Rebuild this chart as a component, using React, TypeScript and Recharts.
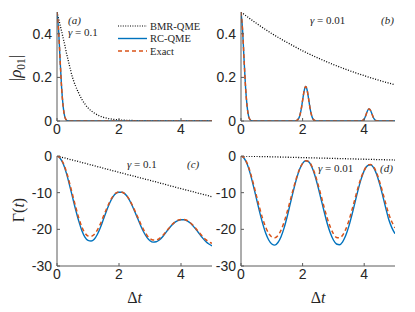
import React from 'react';
import { LineChart, Line, XAxis, YAxis } from 'recharts';

// ---------- ticks ----------
const xTicks = [0, 2, 4];
const rhoTicks = [0, 0.2, 0.4];
const gammaTicks = [-30, -20, -10, 0];

// ---------- panel (a): |rho01|, gamma = 0.1 ----------
const tA = [0, 0.05, 0.1, 0.15, 0.2, 0.25, 0.3, 0.35, 0.4, 0.5, 0.6, 0.7, 0.8, 0.9, 1.0, 1.2, 1.4, 1.6, 1.8, 2.0, 2.5, 3.0, 3.5, 4.0, 4.5, 5.0];
const bmrA = [0.5, 0.47, 0.44, 0.41, 0.38, 0.35, 0.315, 0.285, 0.255, 0.2, 0.16, 0.128, 0.1, 0.078, 0.06, 0.037, 0.022, 0.013, 0.008, 0.005, 0.002, 0.001, 0, 0, 0, 0];
const rcA = [0.5, 0.42, 0.28, 0.15, 0.065, 0.02, 0.005, 0.001, 0, 0, 0, 0, 0, 0, 0, 0, 0, 0, 0, 0, 0, 0, 0, 0, 0, 0];
const exactA = [0.5, 0.42, 0.28, 0.15, 0.065, 0.02, 0.005, 0.001, 0, 0, 0, 0, 0, 0, 0, 0, 0, 0, 0, 0, 0, 0, 0, 0, 0, 0];

// ---------- panel (b): |rho01|, gamma = 0.01 ----------
const tB = [0, 0.05, 0.1, 0.15, 0.2, 0.25, 0.3, 0.35, 0.4, 0.6, 0.8, 1.0, 1.2, 1.4, 1.6, 1.7, 1.8, 1.85, 1.9, 1.95, 2.0, 2.05, 2.1, 2.15, 2.2, 2.25, 2.3, 2.35, 2.4, 2.5, 2.6, 2.8, 3.0, 3.2, 3.4, 3.6, 3.8, 3.9, 3.95, 4.0, 4.05, 4.1, 4.15, 4.2, 4.25, 4.3, 4.35, 4.4, 4.5, 4.6, 4.8, 5.0];
const rcB = [0.5, 0.42, 0.28, 0.15, 0.065, 0.02, 0.005, 0.001, 0, 0, 0, 0, 0, 0, 0, 0, 0.002, 0.007, 0.021, 0.05, 0.095, 0.138, 0.158, 0.14, 0.097, 0.052, 0.022, 0.007, 0.002, 0, 0, 0, 0, 0, 0, 0, 0, 0.001, 0.003, 0.009, 0.025, 0.045, 0.055, 0.05, 0.033, 0.015, 0.005, 0.001, 0, 0, 0, 0];
const exactB = [0.5, 0.42, 0.28, 0.15, 0.065, 0.02, 0.005, 0.001, 0, 0, 0, 0, 0, 0, 0, 0, 0.002, 0.007, 0.021, 0.05, 0.095, 0.138, 0.158, 0.14, 0.097, 0.052, 0.022, 0.007, 0.002, 0, 0, 0, 0, 0, 0, 0, 0, 0.001, 0.003, 0.009, 0.025, 0.045, 0.055, 0.05, 0.033, 0.015, 0.005, 0.001, 0, 0, 0, 0];
const tBmrB = [0, 0.5, 1, 1.5, 2, 2.5, 3, 3.5, 4, 4.5, 5];
const bmrB = [0.5, 0.448, 0.401, 0.36, 0.322, 0.289, 0.259, 0.232, 0.208, 0.186, 0.166];

// ---------- panels (c),(d): Gamma(t) ----------
const tG = [0, 0.1, 0.2, 0.3, 0.4, 0.5, 0.6, 0.7, 0.8, 0.9, 1.0, 1.1, 1.2, 1.3, 1.4, 1.5, 1.6, 1.7, 1.8, 1.9, 2.0, 2.1, 2.2, 2.3, 2.4, 2.5, 2.6, 2.7, 2.8, 2.9, 3.0, 3.1, 3.2, 3.3, 3.4, 3.5, 3.6, 3.7, 3.8, 3.9, 4.0, 4.1, 4.2, 4.3, 4.4, 4.5, 4.6, 4.7, 4.8, 4.9, 5.0];
const rcC = [0, -0.6, -2.1, -4.6, -7.8, -11.2, -14.6, -17.7, -20.3, -22.1, -23.0, -23.2, -22.7, -21.4, -19.5, -17.2, -14.9, -12.8, -11.2, -10.2, -9.9, -9.9, -10.4, -11.5, -13.1, -15.0, -17.0, -19.0, -20.8, -22.2, -23.1, -23.5, -23.4, -22.9, -22.1, -21.0, -19.9, -18.9, -18.1, -17.6, -17.4, -17.4, -17.7, -18.3, -19.2, -20.2, -21.3, -22.4, -23.3, -24.0, -24.5];
const exactC = [0, -0.5, -1.9, -4.2, -7.2, -10.5, -13.8, -16.8, -19.3, -21.0, -21.8, -21.9, -21.4, -20.2, -18.5, -16.4, -14.4, -12.5, -11.0, -10.1, -9.8, -9.9, -10.4, -11.4, -12.9, -14.7, -16.6, -18.5, -20.2, -21.6, -22.5, -22.9, -22.9, -22.5, -21.8, -20.8, -19.8, -18.8, -18.0, -17.5, -17.3, -17.3, -17.6, -18.2, -19.0, -20.0, -21.0, -22.0, -22.8, -23.4, -23.8];
const tBmrG = [0, 1, 2, 3, 4, 5];
const bmrC = [0, -2.2, -4.45, -6.65, -8.9, -11.1];
const rcD = [0, -0.6, -2.2, -4.8, -8.1, -11.6, -15.1, -18.3, -21.0, -22.9, -24.0, -24.3, -23.6, -22.0, -19.6, -16.5, -13.0, -9.5, -6.3, -3.7, -2.0, -1.3, -1.6, -3.0, -5.3, -8.4, -11.8, -15.2, -18.4, -21.0, -22.9, -24.0, -24.2, -23.4, -21.7, -19.2, -16.1, -12.7, -9.3, -6.3, -4.0, -2.7, -2.4, -3.1, -4.9, -7.6, -10.8, -14.2, -17.4, -19.6, -21.2];
const exactD = [0, -0.5, -2.0, -4.4, -7.5, -10.8, -14.0, -17.0, -19.4, -21.1, -22.1, -22.3, -21.7, -20.2, -18.0, -15.2, -12.1, -8.9, -6.0, -3.6, -2.0, -1.3, -1.5, -2.8, -4.9, -7.7, -10.8, -14.0, -17.0, -19.4, -21.2, -22.2, -22.3, -21.6, -20.0, -17.7, -14.8, -11.7, -8.6, -5.9, -3.9, -2.6, -2.3, -2.9, -4.5, -7.0, -9.9, -13.0, -15.9, -18.0, -19.6];
const bmrD = [0, -0.22, -0.44, -0.66, -0.88, -1.1];

// ---------- styles ----------
const AX = '#5a5a5a';
const TXT = '#262626';
const BLUE = '#0072BD';
const ORANGE = '#D95319';
const SANS = '"Liberation Sans", Arial, Helvetica, sans-serif';
const SERIF = '"Liberation Serif", "Times New Roman", serif';

const rows = (ts: number[], vs: number[]) => ts.map((t, i) => ({ t, v: vs[i] }));

type Series = { t: number[]; v: number[] };

function Panel(props: {
  px: number; py: number; w: number; h: number;
  yDomain: [number, number]; yTicks: number[];
  bmr: Series; rc: Series; exact: Series;
}) {
  const { px, py, w, h, yDomain, yTicks, bmr, rc, exact } = props;
  const ML = 50, MR = 6, MT = 11, MB = 26;
  const tickStyle = { fontSize: 14, fill: TXT, fontFamily: SANS };
  return (
    <div style={{ position: 'absolute', left: px - ML, top: py - MT }}>
      <LineChart width={ML + w + MR} height={MT + h + MB} margin={{ top: MT, right: MR, left: 0, bottom: 0 }}>
        <XAxis xAxisId="b" type="number" dataKey="t" domain={[0, 5]} ticks={xTicks} interval={0}
          allowDataOverflow height={MB} stroke={AX} tickSize={-3} tickMargin={6} tick={tickStyle} />
        <XAxis xAxisId="tp" orientation="top" type="number" dataKey="t" domain={[0, 5]} ticks={xTicks}
          interval={0} allowDataOverflow height={0} stroke={AX} tickSize={-3} tick={false} />
        <YAxis yAxisId="l" type="number" domain={yDomain} ticks={yTicks} interval={0} allowDataOverflow
          width={ML} stroke={AX} tickSize={-3} tickMargin={8} tick={tickStyle} />
        <YAxis yAxisId="r" orientation="right" type="number" domain={yDomain} ticks={yTicks} interval={0}
          allowDataOverflow width={0} stroke={AX} tickSize={-3} tick={false} />
        <Line xAxisId="b" yAxisId="l" data={rows(bmr.t, bmr.v)} dataKey="v" type="monotone"
          stroke="#000" strokeWidth={1.3} strokeDasharray="1 1.6" dot={false} isAnimationActive={false} />
        <Line xAxisId="b" yAxisId="l" data={rows(rc.t, rc.v)} dataKey="v" type="monotone"
          stroke={BLUE} strokeWidth={1.4} dot={false} isAnimationActive={false} />
        <Line xAxisId="b" yAxisId="l" data={rows(exact.t, exact.v)} dataKey="v" type="monotone"
          stroke={ORANGE} strokeWidth={1.5} strokeDasharray="4 3" dot={false} isAnimationActive={false} />
      </LineChart>
    </div>
  );
}

function Gamma({ value }: { value: string }) {
  return (
    <>
      <tspan fontStyle="italic">γ</tspan>
      <tspan> = {value}</tspan>
    </>
  );
}

export default function App() {
  return (
    <div style={{ position: 'absolute', left: 0, top: 0, width: 415, height: 312, background: '#fff', overflow: 'hidden' }}>
      <Panel px={57} py={12} w={155} h={109} yDomain={[0, 0.5]} yTicks={rhoTicks}
        bmr={{ t: tA, v: bmrA }} rc={{ t: tA, v: rcA }} exact={{ t: tA, v: exactA }} />
      <Panel px={241} py={12} w={154} h={109} yDomain={[0, 0.5]} yTicks={rhoTicks}
        bmr={{ t: tBmrB, v: bmrB }} rc={{ t: tB, v: rcB }} exact={{ t: tB, v: exactB }} />
      <Panel px={57} py={156} w={155} h={110} yDomain={[-30, 0]} yTicks={gammaTicks}
        bmr={{ t: tBmrG, v: bmrC }} rc={{ t: tG, v: rcC }} exact={{ t: tG, v: exactC }} />
      <Panel px={241} py={156} w={154} h={110} yDomain={[-30, 0]} yTicks={gammaTicks}
        bmr={{ t: tBmrG, v: bmrD }} rc={{ t: tG, v: rcD }} exact={{ t: tG, v: exactD }} />

      <svg width={415} height={312} style={{ position: 'absolute', left: 0, top: 0, pointerEvents: 'none' }}
        fontFamily={SERIF} fill={TXT}>
        {/* axis labels */}
        <text transform="translate(21,68) rotate(-90)" textAnchor="middle" fontSize={17}>
          |<tspan fontStyle="italic">ρ</tspan><tspan fontSize={11.5} dy={4}>01</tspan><tspan dy={-4}>|</tspan>
        </text>
        <text transform="translate(24,210) rotate(-90)" textAnchor="middle" fontSize={16}>
          Γ(<tspan fontStyle="italic">t</tspan>)
        </text>
        <text x={134.5} y={303} textAnchor="middle" fontSize={16}>Δ<tspan fontStyle="italic">t</tspan></text>
        <text x={318} y={303} textAnchor="middle" fontSize={16}>Δ<tspan fontStyle="italic">t</tspan></text>

        {/* panel (a) annotations + legend */}
        <text x={68} y={24} fontSize={11} fontStyle="italic">(a)</text>
        <text x={68} y={35.5} fontSize={11}><Gamma value="0.1" /></text>
        <line x1={118} x2={147} y1={26} y2={26} stroke="#000" strokeWidth={1.2} strokeDasharray="1 1.4" />
        <line x1={118} x2={147} y1={38.5} y2={38.5} stroke={BLUE} strokeWidth={1.4} />
        <line x1={118} x2={147} y1={51} y2={51} stroke={ORANGE} strokeWidth={1.5} strokeDasharray="4 3" />
        <text x={150} y={29.5} fontSize={10.5}>BMR-QME</text>
        <text x={150} y={42} fontSize={10.5}>RC-QME</text>
        <text x={150} y={54.5} fontSize={10.5}>Exact</text>

        {/* panel (b) */}
        <text x={310} y={24} fontSize={11}><Gamma value="0.01" /></text>
        <text x={381} y={24} fontSize={11} fontStyle="italic">(b)</text>

        {/* panel (c) */}
        <text x={127} y={168} fontSize={11}><Gamma value="0.1" /></text>
        <text x={187} y={168} fontSize={11} fontStyle="italic">(c)</text>

        {/* panel (d) */}
        <text x={318} y={172} fontSize={11}><Gamma value="0.01" /></text>
        <text x={380} y={172} fontSize={11} fontStyle="italic">(d)</text>
      </svg>
    </div>
  );
}
